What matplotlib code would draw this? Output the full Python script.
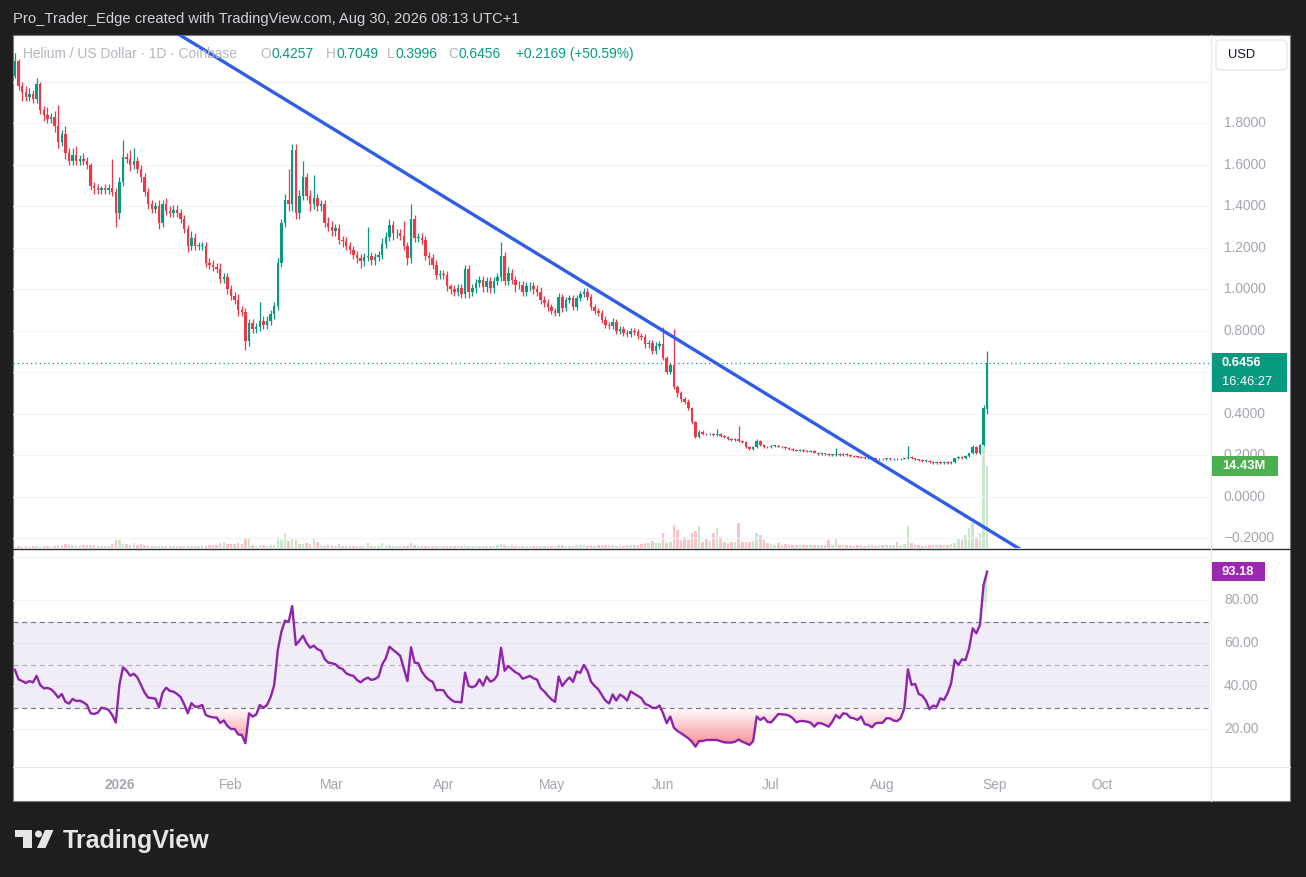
import numpy as np
import matplotlib.pyplot as plt
import matplotlib.colors as mcolors
import matplotlib.transforms as mtransforms
from matplotlib.patches import Rectangle, FancyBboxPatch, Polygon, Ellipse
from matplotlib.lines import Line2D
from matplotlib.path import Path as MPath

plt.rcParams['font.family'] = ['Liberation Sans', 'DejaVu Sans']

# ---------------- data (HNT/USD, 1D, Coinbase) ----------------
start_date = "2025-12-03"
first_open = 2.03
gap_opens = {270: 0.4257}   # candles whose open differs from the previous close

closes = [
    # Dec
    2.10, 1.98, 1.95, 1.93, 1.94, 1.92, 1.99, 1.865, 1.84, 1.82, 1.83, 1.79, 1.71, 1.75, 1.66,
    1.62, 1.65, 1.62, 1.63, 1.62, 1.60, 1.50, 1.49, 1.48, 1.49, 1.48, 1.49, 1.47, 1.37,
    # Jan
    1.52, 1.64, 1.63, 1.60, 1.62, 1.58, 1.54, 1.47, 1.41, 1.39, 1.40, 1.32, 1.41, 1.38, 1.37,
    1.385, 1.37, 1.34, 1.29, 1.21, 1.25, 1.21, 1.21, 1.21, 1.13, 1.12, 1.11, 1.10, 1.05, 1.06, 1.00,
    # Feb
    0.97, 0.95, 0.90, 0.89, 0.75, 0.84, 0.81, 0.82, 0.85, 0.83, 0.85, 0.88, 0.92, 1.13, 1.32,
    1.43, 1.41, 1.67, 1.37, 1.45, 1.54, 1.45, 1.41, 1.44, 1.40, 1.41, 1.32, 1.30,
    # Mar
    1.28, 1.295, 1.24, 1.235, 1.21, 1.19, 1.165, 1.15, 1.135, 1.155, 1.16, 1.14, 1.155, 1.165, 1.22,
    1.255, 1.31, 1.27, 1.27, 1.26, 1.21, 1.15, 1.34, 1.25, 1.25, 1.24, 1.16, 1.15, 1.12, 1.07, 1.075,
    # Apr
    1.07, 1.015, 1.00, 0.99, 1.005, 0.98, 1.10, 0.99, 1.005, 1.03, 1.045, 1.01, 1.04, 1.005, 1.04,
    1.06, 1.16, 1.04, 1.08, 1.045, 1.02, 1.02, 0.99, 1.015, 1.015, 1.00, 0.99, 0.95, 0.935, 0.915,
    # May
    0.895, 0.885, 0.965, 0.91, 0.95, 0.96, 0.915, 0.96, 0.98, 0.99, 0.965, 0.915, 0.895, 0.885, 0.855,
    0.83, 0.825, 0.845, 0.80, 0.81, 0.79, 0.785, 0.80, 0.795, 0.775, 0.77, 0.735, 0.74, 0.705, 0.73, 0.735,
    # Jun
    0.668, 0.604, 0.636, 0.53, 0.50, 0.47, 0.46, 0.427, 0.363, 0.29, 0.315, 0.305, 0.302, 0.303, 0.30,
    0.305, 0.294, 0.288, 0.278, 0.275, 0.28, 0.272, 0.265, 0.243, 0.23, 0.24, 0.268, 0.25, 0.243, 0.24,
    # Jul
    0.246, 0.247, 0.243, 0.24, 0.235, 0.23, 0.227, 0.224, 0.227, 0.222, 0.219, 0.222, 0.214, 0.207, 0.21,
    0.206, 0.203, 0.203, 0.207, 0.203, 0.206, 0.201, 0.198, 0.195, 0.193, 0.19, 0.188, 0.191, 0.186, 0.181, 0.185,
    # Aug
    0.181, 0.186, 0.183, 0.185, 0.181, 0.185, 0.186, 0.195, 0.186, 0.181, 0.178, 0.175, 0.175, 0.168, 0.165,
    0.168, 0.165, 0.17, 0.165, 0.17, 0.186, 0.195, 0.186, 0.197, 0.21, 0.243, 0.211, 0.25, 0.4287, 0.6456,
]

upper_wicks = [
    # Dec
    0.04, 0.01, 0.02, 0.03, 0.03, 0.02, 0.03, 0.01, 0.02, 0.04, 0.02, 0.03, 0.10, 0.02, 0.04,
    0.02, 0.03, 0.04, 0.02, 0.03, 0.02, 0.01, 0.02, 0.02, 0.01, 0.02, 0.02, 0.14, 0.02,
    # Jan
    0.02, 0.08, 0.02, 0.04, 0.06, 0.02, 0.02, 0.02, 0.02, 0.02, 0.02, 0.03, 0.02, 0.03, 0.02,
    0.02, 0.02, 0.02, 0.02, 0.02, 0.03, 0.02, 0.02, 0.02, 0.02, 0.02, 0.02, 0.02, 0.03, 0.02, 0.02,
    # Feb
    0.02, 0.02, 0.03, 0.02, 0.02, 0.02, 0.02, 0.02, 0.09, 0.02, 0.02, 0.02, 0.02, 0.02, 0.02,
    0.03, 0.15, 0.03, 0.03, 0.03, 0.08, 0.02, 0.03, 0.11, 0.02, 0.02, 0.02, 0.03,
    # Mar
    0.03, 0.02, 0.02, 0.02, 0.02, 0.02, 0.02, 0.02, 0.02, 0.02, 0.14, 0.02, 0.02, 0.02, 0.03,
    0.02, 0.03, 0.02, 0.02, 0.02, 0.07, 0.02, 0.07, 0.02, 0.02, 0.02, 0.02, 0.02, 0.02, 0.02, 0.02,
    # Apr
    0.02, 0.02, 0.01, 0.02, 0.02, 0.02, 0.02, 0.02, 0.02, 0.02, 0.02, 0.02, 0.02, 0.02, 0.02,
    0.02, 0.07, 0.02, 0.03, 0.02, 0.02, 0.02, 0.02, 0.02, 0.02, 0.02, 0.02, 0.02, 0.02, 0.02,
    # May
    0.015, 0.015, 0.02, 0.015, 0.015, 0.015, 0.015, 0.015, 0.015, 0.015, 0.015, 0.015, 0.015, 0.015, 0.015,
    0.015, 0.015, 0.02, 0.015, 0.015, 0.015, 0.015, 0.015, 0.015, 0.015, 0.015, 0.015, 0.015, 0.015, 0.015, 0.015,
    # Jun
    0.085, 0.01, 0.01, 0.175, 0.01, 0.01, 0.01, 0.01, 0.005, 0.005, 0.01, 0.006, 0.005, 0.005, 0.005,
    0.025, 0.005, 0.005, 0.005, 0.005, 0.005, 0.06, 0.005, 0.005, 0.005, 0.005, 0.012, 0.005, 0.005, 0.005,
    # Jul
    0.004, 0.004, 0.004, 0.004, 0.004, 0.004, 0.004, 0.004, 0.004, 0.004, 0.004, 0.004, 0.004, 0.004, 0.004,
    0.004, 0.004, 0.004, 0.028, 0.004, 0.004, 0.004, 0.004, 0.004, 0.004, 0.004, 0.004, 0.004, 0.004, 0.004, 0.004,
    # Aug
    0.004, 0.004, 0.004, 0.004, 0.004, 0.004, 0.004, 0.051, 0.004, 0.004, 0.004, 0.004, 0.004, 0.004, 0.004,
    0.004, 0.004, 0.004, 0.004, 0.004, 0.004, 0.004, 0.004, 0.004, 0.004, 0.006, 0.004, 0.004, 0.014, 0.0593,
]

lower_wicks = [
    # Dec
    0.01, 0.02, 0.04, 0.02, 0.02, 0.02, 0.02, 0.02, 0.03, 0.02, 0.02, 0.03, 0.03, 0.02, 0.03,
    0.02, 0.02, 0.02, 0.02, 0.02, 0.02, 0.02, 0.03, 0.02, 0.02, 0.02, 0.02, 0.02, 0.07,
    # Jan
    0.03, 0.02, 0.02, 0.03, 0.02, 0.02, 0.02, 0.02, 0.02, 0.02, 0.02, 0.03, 0.02, 0.02, 0.02,
    0.02, 0.02, 0.02, 0.02, 0.03, 0.02, 0.02, 0.02, 0.02, 0.02, 0.02, 0.02, 0.02, 0.02, 0.02, 0.02,
    # Feb
    0.02, 0.02, 0.03, 0.02, 0.04, 0.02, 0.02, 0.02, 0.02, 0.02, 0.02, 0.02, 0.02, 0.02, 0.02,
    0.02, 0.03, 0.03, 0.03, 0.03, 0.02, 0.02, 0.03, 0.02, 0.02, 0.02, 0.02, 0.02,
    # Mar
    0.02, 0.02, 0.02, 0.03, 0.02, 0.02, 0.02, 0.02, 0.03, 0.02, 0.02, 0.02, 0.02, 0.02, 0.02,
    0.02, 0.02, 0.03, 0.02, 0.02, 0.02, 0.03, 0.02, 0.02, 0.02, 0.02, 0.02, 0.03, 0.02, 0.02, 0.02,
    # Apr
    0.02, 0.02, 0.02, 0.02, 0.02, 0.02, 0.02, 0.03, 0.02, 0.02, 0.02, 0.02, 0.02, 0.02, 0.02,
    0.02, 0.02, 0.02, 0.02, 0.02, 0.03, 0.02, 0.02, 0.02, 0.02, 0.02, 0.02, 0.02, 0.02, 0.02,
    # May
    0.015, 0.015, 0.015, 0.02, 0.015, 0.015, 0.015, 0.015, 0.015, 0.015, 0.015, 0.015, 0.015, 0.015, 0.015,
    0.015, 0.015, 0.015, 0.015, 0.015, 0.015, 0.015, 0.015, 0.015, 0.015, 0.015, 0.015, 0.015, 0.015, 0.015, 0.015,
    # Jun
    0.01, 0.01, 0.01, 0.01, 0.02, 0.01, 0.01, 0.01, 0.01, 0.005, 0.005, 0.005, 0.005, 0.005, 0.005,
    0.005, 0.005, 0.005, 0.005, 0.005, 0.005, 0.005, 0.005, 0.005, 0.005, 0.005, 0.005, 0.005, 0.005, 0.005,
    # Jul
    0.004, 0.004, 0.004, 0.004, 0.004, 0.004, 0.004, 0.004, 0.004, 0.004, 0.004, 0.004, 0.004, 0.004, 0.004,
    0.004, 0.004, 0.004, 0.004, 0.004, 0.004, 0.004, 0.004, 0.004, 0.004, 0.004, 0.004, 0.004, 0.004, 0.004, 0.004,
    # Aug
    0.004, 0.004, 0.004, 0.004, 0.004, 0.004, 0.004, 0.004, 0.004, 0.004, 0.004, 0.004, 0.004, 0.004, 0.004,
    0.004, 0.004, 0.004, 0.004, 0.004, 0.004, 0.004, 0.004, 0.004, 0.004, 0.004, 0.004, 0.004, 0.005, 0.0261,
]

volumes_m = [
    # Dec
    0.25, 0.3, 0.25, 0.3, 0.25, 0.3, 0.3, 0.25, 0.3, 0.3, 0.25, 0.3, 0.6, 0.55, 0.65,
    0.6, 0.45, 0.4, 0.45, 0.45, 0.5, 0.45, 0.45, 0.35, 0.35, 0.4, 0.35, 0.7, 1.35,
    # Jan
    1.35, 0.65, 0.65, 0.55, 0.8, 0.55, 0.65, 0.6, 0.35, 0.3, 0.35, 0.4, 0.3, 0.35, 0.3,
    0.35, 0.3, 0.4, 0.35, 0.3, 0.35, 0.3, 0.35, 0.45, 0.4, 0.45, 0.5, 0.45, 0.9, 1.1, 0.7,
    # Feb
    0.7, 0.7, 0.8, 0.75, 1.5, 1.6, 0.45, 0.4, 0.5, 0.45, 0.4, 0.5, 0.6, 2.0, 1.35,
    2.6, 1.2, 1.7, 1.35, 0.7, 0.75, 0.8, 0.7, 1.5, 1.0, 0.45, 0.4, 0.45,
    # Mar
    0.45, 0.4, 0.7, 0.4, 0.35, 0.3, 0.35, 0.3, 0.35, 0.3, 0.8, 0.35, 0.3, 0.35, 0.8,
    0.4, 0.45, 0.35, 0.3, 0.35, 0.4, 0.35, 0.8, 0.45, 0.35, 0.3, 0.35, 0.3, 0.3, 0.35, 0.3,
    # Apr
    0.3, 0.35, 0.3, 0.3, 0.3, 0.35, 0.6, 0.4, 0.3, 0.35, 0.3, 0.3, 0.35, 0.3, 0.4,
    0.45, 0.7, 0.5, 0.4, 0.45, 0.35, 0.3, 0.35, 0.3, 0.35, 0.3, 0.35, 0.4, 0.35, 0.4,
    # May
    0.35, 0.4, 0.6, 0.45, 0.4, 0.35, 0.4, 0.45, 0.5, 0.45, 0.4, 0.45, 0.4, 0.45, 0.5,
    0.45, 0.5, 0.45, 0.4, 0.45, 0.4, 0.45, 0.5, 0.45, 0.5, 0.7, 0.9, 0.8, 1.2, 0.9, 0.8,
    # Jun
    2.6, 0.8, 1.0, 4.0, 3.2, 1.4, 2.0, 1.4, 2.6, 2.9, 3.8, 1.1, 1.7, 1.2, 2.6,
    3.5, 2.0, 1.0, 0.9, 1.0, 1.0, 4.3, 1.1, 1.1, 1.0, 1.2, 2.6, 2.3, 1.4, 0.8,
    # Jul
    0.7, 0.6, 0.8, 0.6, 0.7, 0.6, 0.5, 0.6, 0.5, 0.6, 0.5, 0.6, 0.5, 0.5, 0.6,
    0.5, 1.4, 0.6, 1.7, 0.5, 0.5, 0.6, 0.5, 0.4, 0.5, 0.5, 0.4, 0.5, 0.5, 0.4, 0.5,
    # Aug
    0.5, 0.6, 0.5, 0.5, 1.1, 0.6, 0.7, 3.8, 0.8, 0.5, 0.5, 0.4, 0.5, 0.5, 0.6,
    0.5, 0.5, 0.6, 0.5, 0.7, 0.9, 1.7, 1.4, 2.3, 3.5, 4.3, 2.0, 2.6, 17.8, 14.43,
]

rsi = [
    # Dec
    47.5, 43.1, 42.3, 41.4, 42.3, 41.7, 44.7, 40.5, 38.9, 39.1, 38.5, 36.9, 34.6, 36.3, 32.7,
    31.8, 34.0, 33.0, 33.2, 32.4, 31.2, 27.3, 27.0, 27.6, 29.9, 29.6, 28.9, 26.5, 23.0,
    # Jan
    40.5, 48.7, 47.1, 44.8, 45.7, 44.0, 40.5, 36.9, 34.6, 34.4, 34.1, 30.1, 36.9, 39.2, 37.7,
    37.4, 36.3, 34.9, 31.5, 27.3, 32.0, 30.4, 30.4, 31.2, 26.5, 25.8, 25.4, 25.3, 22.8, 24.0, 21.4,
    # Feb
    20.0, 20.0, 17.5, 17.2, 13.4, 27.3, 25.8, 26.7, 31.2, 29.8, 31.2, 34.8, 40.5, 56.8, 65.3,
    70.4, 69.8, 77.2, 59.1, 61.1, 63.4, 59.9, 57.8, 58.8, 57.1, 56.4, 52.6, 50.9,
    # Mar
    50.6, 50.1, 48.5, 47.9, 45.9, 45.1, 44.7, 42.8, 41.7, 43.1, 43.9, 42.8, 43.3, 44.4, 50.1,
    52.9, 58.3, 56.8, 55.5, 54.0, 48.2, 42.3, 58.0, 50.9, 50.6, 46.7, 44.4, 42.8, 42.0, 38.0, 38.2,
    # Apr
    38.0, 35.4, 33.8, 32.7, 32.6, 32.4, 46.2, 40.0, 39.4, 40.2, 43.1, 40.2, 44.4, 42.0, 42.8,
    45.1, 57.8, 47.1, 49.3, 47.8, 46.4, 45.5, 43.4, 44.0, 44.7, 43.6, 43.0, 39.0, 37.5, 35.5,
    # May
    33.8, 32.6, 44.4, 40.0, 42.3, 44.0, 41.9, 46.8, 46.1, 49.8, 47.1, 42.0, 40.0, 38.5, 35.8,
    33.2, 31.9, 36.1, 33.2, 36.0, 35.0, 33.2, 37.5, 36.4, 35.4, 34.3, 31.7, 31.0, 29.9, 29.8, 30.9,
    # Jun
    27.3, 22.7, 25.8, 20.6, 19.1, 18.0, 16.9, 15.7, 14.1, 11.8, 14.4, 14.4, 14.9, 14.9, 14.9,
    14.9, 14.3, 13.8, 13.7, 13.7, 14.1, 15.1, 14.1, 13.4, 12.6, 14.3, 25.8, 24.2, 25.4, 23.3,
    # Jul
    23.1, 25.0, 27.0, 26.8, 26.7, 26.2, 25.1, 23.1, 23.7, 23.7, 23.4, 22.9, 21.1, 22.8, 22.6,
    21.9, 21.1, 23.4, 26.5, 25.0, 27.3, 27.0, 25.3, 25.0, 24.2, 25.8, 22.3, 21.9, 20.8, 22.6, 22.9,
    # Aug
    22.9, 25.0, 25.0, 23.9, 23.7, 25.0, 29.6, 47.8, 40.5, 41.0, 36.3, 35.5, 33.2, 29.2, 30.9,
    30.4, 34.3, 33.5, 36.6, 41.3, 52.1, 49.8, 52.4, 52.1, 57.5, 66.8, 64.5, 68.4, 87.0, 93.18,
]

# trend line drawn on the chart: (day index, price)
trend_start = (40, 2.288)
trend_end = (290, -0.367)

price_levels = [-0.2, 0.0, 0.2, 0.4, 0.6, 0.8, 1.0, 1.2, 1.4, 1.6, 1.8]
grid_levels = price_levels + [2.0]
rsi_levels = [20, 40, 60, 80]
month_dates = ["2026-01-01", "2026-02-01", "2026-03-01", "2026-04-01", "2026-05-01",
               "2026-06-01", "2026-07-01", "2026-08-01", "2026-09-01", "2026-10-01"]
month_labels = ["2026", "Feb", "Mar", "Apr", "May", "Jun", "Jul", "Aug", "Sep", "Oct"]
header_text = "Pro_Trader_Edge created with TradingView.com, Aug 30, 2026 08:13 UTC+1"
symbol_text = "Helium / US Dollar \u00b7 1D \u00b7 Coinbase"
countdown = "16:46:27"

n = len(closes)
assert len(upper_wicks) == n and len(lower_wicks) == n and len(volumes_m) == n and len(rsi) == n

# ---------------- derived series ----------------
closes = np.array(closes)
opens = np.concatenate([[first_open], closes[:-1]])
for k, v in gap_opens.items():
    opens[k] = v
highs = np.maximum(opens, closes) + np.array(upper_wicks)
lows = np.minimum(opens, closes) - np.array(lower_wicks)
rsi = np.array(rsi)
vols = np.array(volumes_m)
x = np.arange(n)
up = closes >= opens
t0 = np.datetime64(start_date)
month_pos = [(np.datetime64(d) - t0).astype(int) for d in month_dates]

UP, DOWN = "#089981", "#f23645"
AXIS_TXT = "#a3a6af"
GRID = "#f2f3f6"

W, H = 1306, 877
fig = plt.figure(figsize=(W / 100, H / 100), dpi=100)
fig.patch.set_facecolor("#1e1e1e")


def fx(px):
    return px / W


def fy(py):
    return 1 - py / H


# white chart panel
fig.add_artist(Rectangle((fx(13), fy(801)), fx(1290) - fx(13), fy(35) - fy(801),
                         transform=fig.transFigure, facecolor="white",
                         edgecolor="#7a7a7a", lw=0.8, zorder=-5))

price_rect = [fx(13), fy(548), fx(1210) - fx(13), fy(35) - fy(548)]
rsi_rect = [fx(13), fy(767), fx(1210) - fx(13), fy(550) - fy(767)]
xlim = (-0.55, 331.9)

ax_vol = fig.add_axes(price_rect)
ax = fig.add_axes(price_rect)
ax_rsi = fig.add_axes(rsi_rect)
for a in (ax_vol, ax, ax_rsi):
    a.set_axis_off()

# ---------------- volume ----------------
vol_cols = np.where(up, "#c9e7ca", "#fbc3c7")
ax_vol.bar(x, vols, width=0.7, color=vol_cols, lw=0)
ax_vol.set_xlim(*xlim)
ax_vol.set_ylim(0, 90)

# ---------------- price ----------------
for lv in grid_levels:
    ax.axhline(lv, color=GRID, lw=0.9, zorder=0.5)
cols = np.where(up, UP, DOWN)
ax.vlines(x, lows, highs, colors=cols, lw=0.9, zorder=2)
ax.bar(x, np.maximum(np.abs(closes - opens), 0.0025), bottom=np.minimum(opens, closes),
       width=0.7, color=cols, lw=0, zorder=3)
ax.axhline(closes[-1], color=UP, lw=0.9, ls=(0, (1, 2.5)), zorder=1)
ax.plot([trend_start[0], trend_end[0]], [trend_start[1], trend_end[1]],
        color="#2f5ce8", lw=2.4, solid_capstyle="butt", zorder=4)
ax.set_xlim(*xlim)
ax.set_ylim(-0.2458, 2.2265)

# ---------------- RSI ----------------


def gradient_fill(axis, xs, ys, base, far, color, mask, strength=1.0):
    coll = axis.fill_between(xs, ys, base, where=mask, interpolate=True,
                             facecolor="none", edgecolor="none")
    paths = [p for p in coll.get_paths() if len(p.vertices)]
    if not paths:
        return
    clip = MPath.make_compound_path(*paths)
    lo, hi = min(base, far), max(base, far)
    vals = np.linspace(lo, hi, 200)
    grad = np.zeros((200, 1, 4))
    grad[:, 0, :3] = mcolors.to_rgb(color)
    grad[:, 0, 3] = strength * np.abs(vals - base) / abs(far - base)
    im = axis.imshow(grad, extent=[xs[0], xs[-1], lo, hi], origin="lower",
                     aspect="auto", interpolation="bilinear", zorder=1.5)
    im.set_clip_path(clip, transform=axis.transData)


for lv in rsi_levels + [100]:
    ax_rsi.axhline(lv, color=GRID, lw=0.9, zorder=0.5)
ax_rsi.axhspan(30, 70, color="#7e57c2", alpha=0.1, lw=0, zorder=0.6)
ax_rsi.axhline(70, color="#787b86", lw=0.9, ls=(0, (4, 3)), zorder=1)
ax_rsi.axhline(50, color="#787b86", lw=0.9, ls=(0, (4, 3)), alpha=0.5, zorder=1)
ax_rsi.axhline(30, color="#787b86", lw=0.9, ls=(0, (4, 3)), zorder=1)
gradient_fill(ax_rsi, x, rsi, 30, 0, DOWN, rsi < 30, 0.95)
gradient_fill(ax_rsi, x, rsi, 70, 100, "#4caf50", rsi > 70, 0.6)
ax_rsi.plot(x, rsi, color="#8e24aa", lw=1.7, zorder=3)
ax_rsi.set_xlim(*xlim)
ax_rsi.set_ylim(2.34, 103.25)

# ---------------- frame lines ----------------
fig.add_artist(Line2D([fx(13), fx(1290)], [fy(549), fy(549)], transform=fig.transFigure,
                      color="#2a2e39", lw=1.0, zorder=4))
fig.add_artist(Line2D([fx(1211), fx(1211)], [fy(35), fy(801)], transform=fig.transFigure,
                      color="#e6e8ee", lw=0.8, zorder=4))
fig.add_artist(Line2D([fx(13), fx(1290)], [fy(767), fy(767)], transform=fig.transFigure,
                      color="#e6e8ee", lw=0.8, zorder=4))

# ---------------- axis labels ----------------
# the scale hides the tick label that sits under the last-price tag
hidden_levels = [lv for lv in price_levels if abs(lv - closes[-1]) < 0.08]
ptr = mtransforms.blended_transform_factory(fig.transFigure, ax.transData)
for lv in price_levels:
    if lv in hidden_levels:
        continue
    fig.text(fx(1224), lv, f"{lv:.4f}".replace("-", "\u2212"), transform=ptr,
             ha="left", va="center", fontsize=9.9, color=AXIS_TXT, zorder=3)
rtr = mtransforms.blended_transform_factory(fig.transFigure, ax_rsi.transData)
for lv in rsi_levels:
    fig.text(fx(1224), lv, f"{lv:.2f}", transform=rtr,
             ha="left", va="center", fontsize=9.9, color=AXIS_TXT, zorder=3)
ttr = mtransforms.blended_transform_factory(ax_rsi.transData, fig.transFigure)
for pos, lab in zip(month_pos, month_labels):
    fig.text(pos, fy(785), lab, transform=ttr, ha="center", va="center", fontsize=9.9,
             color=AXIS_TXT, fontweight="bold" if lab == "2026" else "normal")


def img_y(axis, val):
    return H - axis.transData.transform((0, val))[1]


def box(x0, y0, x1, y1, color):
    fig.add_artist(Rectangle((fx(x0), fy(y1)), fx(x1) - fx(x0), fy(y0) - fy(y1),
                             transform=fig.transFigure, facecolor=color, lw=0, zorder=5))


# last price tag
py = img_y(ax, closes[-1])
box(1212, py - 10, 1287, py + 29, UP)
fig.text(fx(1222), fy(py), f"{closes[-1]:.4f}", color="white", fontsize=9.3,
         fontweight="bold", va="center", ha="left", zorder=6)
fig.text(fx(1222), fy(py + 19), countdown, color="white", fontsize=9.3,
         va="center", ha="left", zorder=6)

# volume tag
vy = img_y(ax_vol, vols[-1])
box(1212, vy - 9.5, 1278, vy + 10, "#4caf50")
fig.text(fx(1222), fy(vy + 0.5), f"{vols[-1]:.2f}M", color="white", fontsize=9.3,
         fontweight="bold", va="center", ha="left", zorder=6)

# rsi tag
ry = img_y(ax_rsi, rsi[-1])
box(1212, ry - 9.5, 1265, ry + 9.5, "#9c27b0")
fig.text(fx(1222), fy(ry), f"{rsi[-1]:.2f}", color="white", fontsize=9.3,
         fontweight="bold", va="center", ha="left", zorder=6)

# currency button
fig.add_artist(FancyBboxPatch((fx(1216), fy(70)), fx(1287) - fx(1216), fy(40) - fy(70),
                              boxstyle="round,pad=0,rounding_size=0.004",
                              transform=fig.transFigure, facecolor="white",
                              edgecolor="#e0e3eb", lw=0.8, zorder=5))
fig.text(fx(1228), fy(55), "USD", color="#131722", fontsize=9.3, va="center", zorder=6)

# ---------------- header and legend ----------------
fig.text(fx(13), fy(19), header_text, color="#d1d4dc", fontsize=10.6, va="center")

chg = closes[-1] - closes[-2]
pct = chg / closes[-2] * 100
LEG_GRAY = "#b4b6bd"
fig.text(fx(23), fy(54), symbol_text, color=LEG_GRAY, fontsize=9.9, va="center", zorder=6)
ohlc_parts = [
    (271.5, "O", f"{opens[-1]:.4f}"),
    (336.5, "H", f"{highs[-1]:.4f}"),
    (395.5, "L", f"{lows[-1]:.4f}"),
    (458.5, "C", f"{closes[-1]:.4f}"),
]
for px, letter, val in ohlc_parts:
    fig.text(fx(px - 0.5), fy(54), letter, color=LEG_GRAY, fontsize=9.9, va="center",
             ha="right", zorder=6)
    fig.text(fx(px), fy(54), val, color=UP, fontsize=9.9, va="center", zorder=6)
fig.text(fx(516), fy(54), f"{chg:+.4f} ({pct:+.2f}%)", color=UP, fontsize=9.9,
         va="center", zorder=6)

# ---------------- TradingView logo ----------------
logo_col = "#e6e6e6"


def P(px, py_):
    return (fx(px), fy(py_))


fig.add_artist(Polygon([P(15, 830), P(32, 830), P(32, 848), P(23, 848), P(23, 837), P(15, 837)],
                       closed=True, transform=fig.transFigure, facecolor=logo_col, lw=0))
fig.add_artist(Ellipse(P(38.5, 834), 7 / W, 7 / H, transform=fig.transFigure,
                       facecolor=logo_col, lw=0))
fig.add_artist(Polygon([P(45, 830), P(53.5, 830), P(45.5, 848), P(37, 848)],
                       closed=True, transform=fig.transFigure, facecolor=logo_col, lw=0))
fig.text(fx(63), fy(848), "TradingView", color=logo_col, fontsize=18,
         fontweight="bold", va="baseline")

fig.savefig("out.png", dpi=100, facecolor=fig.get_facecolor())
